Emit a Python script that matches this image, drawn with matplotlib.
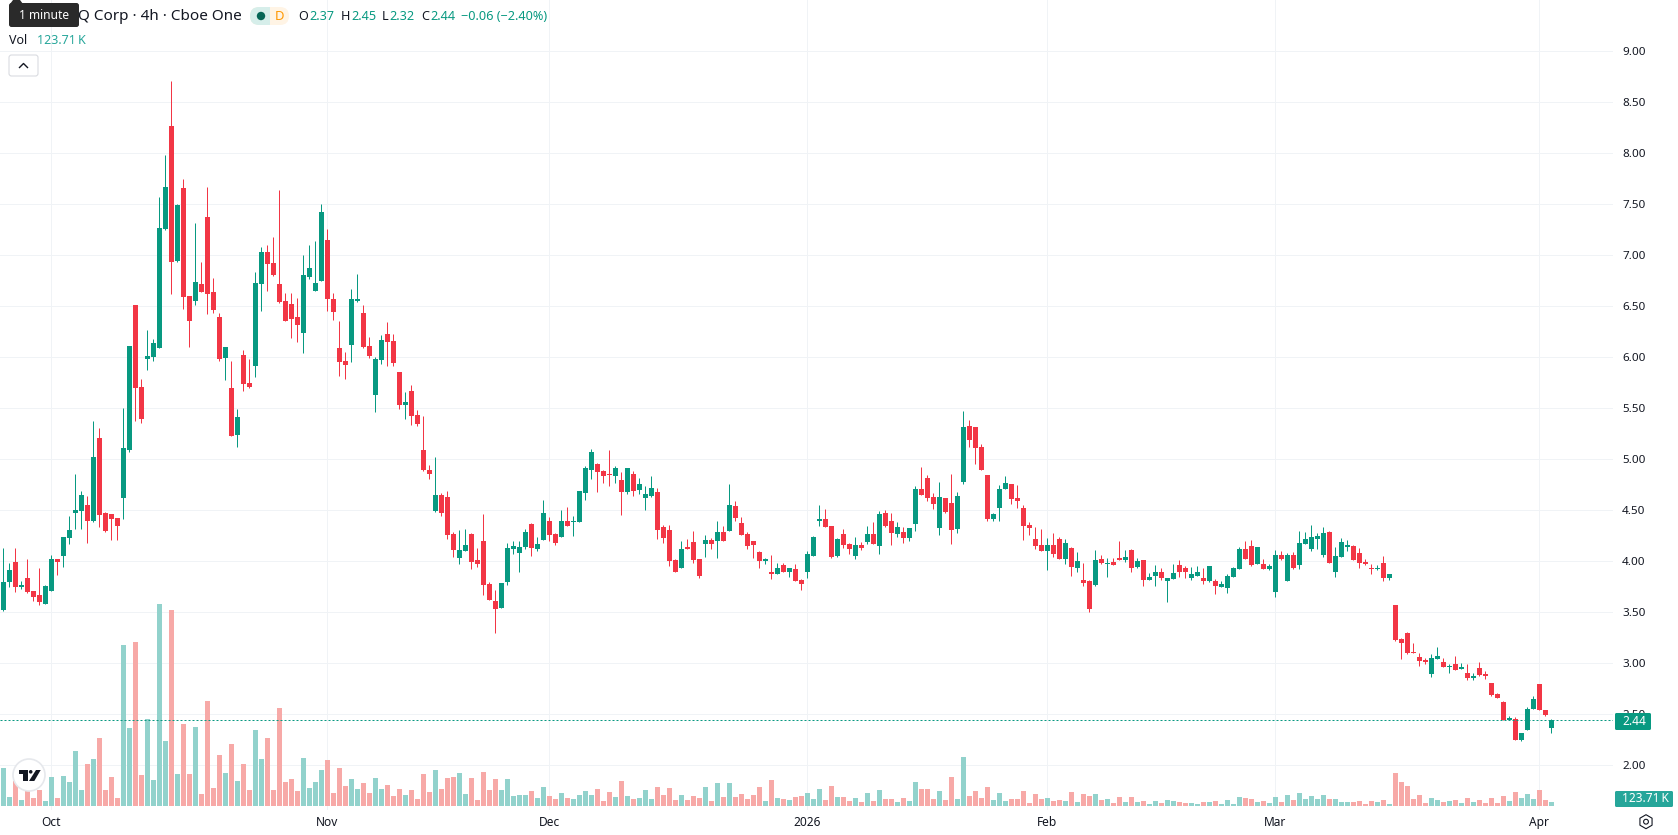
import matplotlib
matplotlib.use('Agg')
import matplotlib.pyplot as plt
import numpy as np
from matplotlib.patches import FancyBboxPatch, Rectangle, Circle, Polygon, RegularPolygon

plt.rcParams['font.family'] = ['Noto Sans', 'DejaVu Sans']

# 4h candles
opens = [3.52,3.80,3.99,3.75,3.84,3.71,3.67,3.58,3.71,4.02,
    4.05,4.23,4.47,4.49,4.55,4.40,5.21,4.47,4.46,4.42,
    4.62,5.09,6.51,5.71,5.98,6.00,6.09,7.26,8.27,6.94,
    7.66,6.60,6.55,6.72,7.38,6.64,6.40,5.99,5.70,5.24,
    6.02,5.75,5.91,6.72,7.03,6.92,6.72,6.55,6.52,6.40,
    6.24,6.79,6.65,6.75,7.15,6.57,6.09,5.96,6.12,6.55,
    6.43,6.11,5.63,5.97,6.23,6.16,5.86,5.53,5.67,5.43,
    5.09,4.90,4.49,4.65,4.63,4.27,4.03,4.10,4.27,4.01,
    4.20,3.78,3.61,3.54,3.80,4.12,4.08,4.14,4.37,4.12,
    4.21,4.40,4.27,4.24,4.40,4.39,4.39,4.67,4.90,4.95,
    4.89,4.86,4.84,4.80,4.68,4.86,4.70,4.62,4.64,4.68,
    4.34,4.31,4.01,3.93,4.14,4.19,4.02,4.17,4.21,4.20,
    4.29,4.30,4.54,4.38,4.27,4.20,4.09,4.00,3.90,3.88,
    3.96,3.90,3.92,3.82,3.90,4.05,4.40,4.41,4.35,4.05,
    4.27,4.17,4.05,4.16,4.19,4.27,4.15,4.47,4.40,4.27,
    4.29,4.23,4.37,4.71,4.82,4.63,4.33,4.62,4.57,4.32,
    4.78,5.33,5.32,5.12,4.85,4.41,4.52,4.71,4.76,4.62,
    4.52,4.36,4.22,4.16,4.10,4.16,4.22,4.02,4.13,3.93,
    3.82,3.81,3.77,4.02,3.97,3.99,4.03,4.01,4.11,3.94,
    4.01,3.82,3.86,3.90,3.81,3.83,3.96,3.93,3.84,3.86,
    3.84,3.81,3.81,3.75,3.74,3.85,3.92,4.12,4.15,3.97,
    3.97,3.92,3.70,4.06,3.81,4.06,3.96,4.17,4.12,4.22,
    4.06,4.29,3.90,4.04,4.14,4.15,4.08,3.99,3.93,3.92,
    3.98,3.84,3.57,3.24,3.30,3.11,3.06,3.03,2.90,3.04,
    3.01,2.96,2.99,2.94,2.91,2.86,2.95,2.90,2.81,2.70,
    2.62,2.44,2.45,2.25,2.35,2.55,2.80,2.54,2.37]
highs = [4.13,3.98,4.13,3.81,4.02,3.71,3.93,3.77,4.06,4.02,
    4.24,4.44,4.86,4.69,4.64,5.38,5.31,4.48,4.46,4.42,
    5.50,6.11,6.51,5.79,6.27,6.18,7.57,7.98,8.71,7.50,
    7.75,6.60,7.32,6.93,7.67,6.78,6.43,6.10,5.96,5.49,
    6.07,5.98,6.84,7.08,7.10,7.18,7.64,6.63,6.63,6.58,
    7.00,7.10,7.14,7.50,7.26,6.63,6.36,6.05,6.67,6.82,
    6.51,6.20,6.00,6.22,6.35,6.23,5.86,5.66,5.73,5.48,
    5.42,4.94,5.02,4.67,4.69,4.29,4.31,4.32,4.28,4.13,
    4.46,3.80,3.72,3.79,4.18,4.20,4.20,4.32,4.38,4.24,
    4.60,4.43,4.28,4.50,4.53,4.44,4.69,4.93,5.10,4.96,
    4.90,5.09,4.93,4.88,4.91,4.89,4.82,4.74,4.84,4.72,
    4.36,4.36,4.02,4.20,4.22,4.30,4.02,4.26,4.23,4.40,
    4.35,4.76,4.59,4.43,4.29,4.20,4.10,4.03,4.06,3.98,
    3.98,3.93,3.97,3.83,4.10,4.25,4.55,4.51,4.35,4.23,
    4.32,4.18,4.24,4.19,4.35,4.39,4.49,4.50,4.47,4.39,
    4.34,4.33,4.74,4.92,4.85,4.67,4.78,4.62,4.86,4.68,
    5.47,5.39,5.32,5.15,4.85,4.47,4.75,4.84,4.76,4.75,
    4.55,4.39,4.34,4.32,4.23,4.28,4.24,4.22,4.14,4.09,
    3.98,3.82,4.11,4.06,4.03,4.03,4.20,4.11,4.12,4.03,
    4.01,3.89,3.96,3.93,3.84,3.97,4.01,3.95,3.94,3.95,
    3.93,3.95,3.83,3.81,3.88,3.94,4.14,4.20,4.21,4.14,
    4.02,3.97,4.11,4.10,4.08,4.09,4.30,4.29,4.36,4.28,
    4.34,4.30,4.14,4.23,4.21,4.16,4.13,4.02,3.97,3.96,
    4.05,3.88,3.57,3.25,3.31,3.20,3.10,3.05,3.09,3.16,
    3.05,2.99,3.07,3.00,2.99,2.91,3.01,2.92,2.81,2.71,
    2.63,2.48,2.47,2.32,2.57,2.68,2.80,2.54,2.45]
lows = [3.51,3.75,3.70,3.73,3.69,3.61,3.57,3.58,3.71,3.87,
    3.94,4.17,4.32,4.32,4.18,4.39,4.34,4.29,4.21,4.21,
    4.41,5.07,5.38,5.36,5.88,5.96,6.09,7.25,6.62,6.93,
    6.47,6.10,6.51,6.64,6.42,6.43,5.96,5.78,5.23,5.12,
    5.67,5.70,5.81,6.45,6.65,6.80,6.53,6.36,6.19,6.15,
    6.04,6.77,6.65,6.75,6.45,6.37,5.82,5.79,5.95,6.54,
    6.09,5.99,5.46,5.93,5.91,5.91,5.49,5.40,5.34,5.33,
    4.89,4.81,4.48,4.44,4.22,4.04,3.97,4.10,3.92,3.94,
    3.67,3.62,3.30,3.54,3.77,4.07,3.90,4.12,4.05,4.10,
    4.21,4.20,4.16,4.24,4.35,4.25,4.39,4.60,4.81,4.68,
    4.77,4.74,4.77,4.45,4.66,4.64,4.66,4.50,4.63,4.22,
    4.18,3.95,3.90,3.93,4.12,3.98,3.84,4.04,4.12,4.03,
    4.20,4.30,4.40,4.26,4.12,4.03,3.93,3.97,3.83,3.88,
    3.90,3.85,3.81,3.72,3.84,4.05,4.35,4.34,4.03,4.04,
    4.13,4.07,4.02,4.11,4.17,4.17,4.07,4.34,4.16,4.24,
    4.18,4.20,4.30,4.65,4.59,4.51,4.26,4.47,4.17,4.28,
    4.76,5.12,4.95,4.90,4.40,4.40,4.40,4.71,4.56,4.52,
    4.21,4.26,4.12,4.10,3.91,4.04,4.02,3.97,3.86,3.90,
    3.76,3.50,3.76,3.97,3.85,3.96,4.01,3.99,3.90,3.93,
    3.76,3.82,3.76,3.82,3.60,3.83,3.85,3.84,3.82,3.86,
    3.78,3.80,3.68,3.75,3.69,3.85,3.92,4.02,3.95,3.97,
    3.92,3.91,3.65,4.01,3.81,3.92,3.92,4.17,4.10,4.12,
    4.04,3.98,3.85,4.04,4.10,4.01,3.93,3.96,3.88,3.91,
    3.81,3.82,3.22,3.04,3.09,3.10,2.97,2.99,2.87,3.04,
    2.96,2.91,2.93,2.94,2.84,2.84,2.88,2.85,2.68,2.66,
    2.44,2.44,2.25,2.24,2.35,2.55,2.54,2.48,2.32]
closes = [3.80,3.91,3.75,3.77,3.70,3.65,3.60,3.76,4.02,3.99,
    4.24,4.31,4.50,4.65,4.40,5.02,4.45,4.30,4.41,4.35,
    5.11,6.11,5.70,5.40,6.01,6.14,7.27,7.67,6.93,7.49,
    6.59,6.36,6.74,6.64,6.62,6.46,5.98,6.10,5.23,5.41,
    5.74,5.71,6.73,7.03,6.91,6.81,6.54,6.36,6.38,6.32,
    6.81,6.88,6.73,7.42,6.57,6.44,5.95,5.92,6.57,6.57,
    6.10,6.01,5.98,6.17,6.15,5.94,5.53,5.56,5.42,5.35,
    4.90,4.86,4.65,4.47,4.26,4.11,4.11,4.16,3.99,3.97,
    3.77,3.62,3.53,3.79,4.13,4.15,4.14,4.29,4.13,4.17,
    4.47,4.26,4.18,4.40,4.35,4.40,4.69,4.91,5.07,4.88,
    4.84,4.85,4.91,4.68,4.91,4.69,4.76,4.66,4.72,4.31,
    4.23,4.00,3.90,4.12,4.12,4.01,3.86,4.21,4.17,4.29,
    4.20,4.55,4.42,4.26,4.15,4.16,4.00,4.02,3.88,3.93,
    3.90,3.93,3.81,3.78,4.07,4.24,4.41,4.34,4.04,4.22,
    4.16,4.12,4.16,4.13,4.27,4.17,4.46,4.35,4.28,4.34,
    4.23,4.33,4.71,4.65,4.62,4.56,4.63,4.48,4.31,4.64,
    5.32,5.19,5.11,4.90,4.41,4.46,4.71,4.77,4.61,4.59,
    4.35,4.33,4.15,4.10,4.16,4.07,4.02,4.18,3.94,4.00,
    3.79,3.53,4.01,3.98,3.98,3.96,4.01,4.04,3.93,4.00,
    3.82,3.85,3.90,3.84,3.84,3.89,3.90,3.90,3.88,3.90,
    3.81,3.95,3.76,3.78,3.86,3.93,4.12,4.02,3.96,4.14,
    3.92,3.95,4.06,4.02,4.06,3.93,4.18,4.22,4.24,4.25,
    4.28,3.98,4.05,4.19,4.16,4.01,3.98,3.97,3.92,3.93,
    3.84,3.88,3.23,3.20,3.10,3.10,3.02,3.01,3.05,3.07,
    2.96,2.97,2.93,2.96,2.86,2.88,2.89,2.88,2.69,2.66,
    2.44,2.46,2.25,2.32,2.55,2.65,2.54,2.49,2.44]
# volume in thousands of shares
volume = [1175,278,773,186,464,247,495,155,897,247,
    928,742,1701,495,1299,1454,2103,495,897,247,
    4980,2412,5072,959,2691,804,6247,2010,6062,990,
    2536,990,2443,371,3247,557,1577,1021,1918,773,
    1299,495,2351,1454,2103,495,3031,742,835,464,
    1485,557,742,1113,1423,402,1175,619,835,526,
    711,402,866,526,650,309,526,340,495,216,
    990,433,1113,526,866,897,1021,371,866,186,
    1052,495,835,495,835,309,340,340,464,247,
    588,309,216,402,247,216,340,464,340,526,
    155,433,278,773,309,216,247,495,216,588,
    340,557,186,340,186,309,247,588,155,711,
    278,711,278,371,216,340,588,155,804,247,
    216,186,278,309,402,216,526,186,619,278,
    278,155,247,124,402,155,495,216,216,124,
    247,155,742,526,526,216,464,186,897,216,
    1516,309,464,247,588,186,402,155,216,216,
    464,93,371,216,247,155,186,155,433,124,
    371,309,371,186,216,93,278,124,278,124,
    155,62,155,93,186,155,124,93,93,62,
    124,124,155,62,186,62,278,247,216,124,
    155,93,278,124,340,186,402,216,309,216,
    340,216,216,124,124,124,155,62,155,124,
    186,62,1021,742,619,216,340,93,247,186,
    124,155,186,93,247,124,186,93,247,93,
    309,155,433,247,371,216,495,186,123.71]

month_idx = [8, 54, 91, 134, 174, 212, 256]
month_labels = ['Oct', 'Nov', 'Dec', '2026', 'Feb', 'Mar', 'Apr']
price_ticks = [2.0, 2.5, 3.0, 3.5, 4.0, 4.5, 5.0, 5.5, 6.0, 6.5, 7.0, 7.5, 8.0, 8.5, 9.0]
last_price = 2.44
last_volume = 123.71

UP = '#089981'
DOWN = '#F23645'
UP_VOL = '#92D2CC'
DOWN_VOL = '#F7A9A7'
GRID = '#F0F3F6'
TEXT = '#131722'
PX = 0.72  # one pixel in points at dpi=100

W, H = 1678, 835
fig = plt.figure(figsize=(W / 100, H / 100), dpi=100, facecolor='white')
ax = fig.add_axes([0, 1 - 810 / H, 1613 / W, 810 / H])

x = np.arange(len(closes))
o, h, l, c = map(np.array, (opens, highs, lows, closes))
rising = c >= o
colors = np.where(rising, UP, DOWN)

# volume sits in the price pane, scaled up from a base line near the bottom
vol_base = 1.60
vol_scale = (4 / 123.71) / 102
vol = np.array(volume) * vol_scale
ax.bar(x, vol, bottom=vol_base, width=5 / 6, linewidth=0,
       color=np.where(rising, UP_VOL, DOWN_VOL), zorder=2)

# candles
ax.vlines(x, l, h, colors=colors, linewidth=PX, zorder=3)
ax.bar(x, np.maximum(np.abs(c - o), 0.01), bottom=np.minimum(o, c), width=5 / 6,
       linewidth=0, color=colors, zorder=4)

ax.axhline(last_price, color=UP, linewidth=PX, linestyle=(0, (2, 2)), snap=True, zorder=5)

ax.set_xlim(-0.567, 268.27)
ax.set_ylim(1.562, 9.503)
ax.set_axisbelow(True)
ax.grid(True, color=GRID, linewidth=PX)
for s in ax.spines.values():
    s.set_visible(False)

ax.set_xticks(month_idx)
ax.set_xticklabels(month_labels, fontsize=8.6, color=TEXT)
ax.get_xticklabels()[3].set_fontweight('bold')
ax.yaxis.tick_right()
ax.set_yticks(price_ticks)
ax.set_yticklabels([f'{v:.2f}' for v in price_ticks], fontsize=8.4, color=TEXT)
ax.tick_params(axis='both', length=0)
ax.tick_params(axis='x', pad=4.5)
ax.tick_params(axis='y', pad=6.5)

# header, tags and buttons on a pixel-sized overlay
ui = fig.add_axes([0, 0, 1, 1], zorder=10)
ui.set_xlim(0, W)
ui.set_ylim(H, 0)
ui.axis('off')
ui.patch.set_alpha(0)

ui.text(78, 16, 'Q Corp · 4h · Cboe One', fontsize=11.0, color=TEXT, va='center', zorder=1)
pill_o = FancyBboxPatch((250, 7), 39, 18, boxstyle='round,pad=0,rounding_size=9',
                        facecolor='#FFF4E5', edgecolor='none', zorder=2)
ui.add_patch(pill_o)
pill_g = FancyBboxPatch((250, 7), 39, 18, boxstyle='round,pad=0,rounding_size=9',
                        facecolor='#D6EEEA', edgecolor='none', zorder=2)
ui.add_patch(pill_g)
pill_g.set_clip_path(Rectangle((250, 7), 20, 18, transform=ui.transData))
ui.add_patch(Circle((261, 16), 4.2, facecolor='#056656', edgecolor='none', zorder=3))
ui.text(279, 16, 'D', fontsize=9.4, color='#FF9800', fontweight='bold', ha='center', va='center', zorder=3)

for xp, s, col in [(298, 'O', TEXT), (309, '2.37', UP), (341, 'H', TEXT), (351, '2.45', UP),
                   (382, 'L', TEXT), (389, '2.32', UP), (421, 'C', TEXT), (430, '2.44', UP),
                   (461, '\u22120.06 (\u22122.40%)', UP)]:
    ui.text(xp, 16, s, fontsize=9.1, color=col, va='center')

ui.text(9, 40.5, 'Vol', fontsize=9, color=TEXT, va='center')
ui.text(37, 40.5, '123.71\u2009K', fontsize=9, color='#26A69A', va='center')

# tooltip over the start of the symbol name
ui.add_patch(FancyBboxPatch((9, 3), 70, 24, boxstyle='round,pad=0,rounding_size=2.5',
                            facecolor='#2A2A2A', edgecolor='none', zorder=5))
ui.add_patch(Polygon([[10, 4], [13, 0], [20, 0], [23, 4]], facecolor='#2A2A2A', edgecolor='none', zorder=5))
ui.text(44, 15.5, '1 minute', fontsize=8.6, color='white', ha='center', va='center', zorder=6)

# collapse button
ui.add_patch(FancyBboxPatch((9, 55), 29, 21, boxstyle='round,pad=0,rounding_size=2.5',
                            facecolor='white', edgecolor='#D6D8DE', linewidth=PX))
ui.plot([19.5, 23.5, 27.5], [67.5, 63.5, 67.5], color=TEXT, linewidth=1.0)

# logo badge
ui.add_patch(Circle((29, 775), 16, facecolor='white', edgecolor='#E6E8EC', linewidth=1.2, zorder=3))
ui.add_patch(Polygon([[19, 770], [28, 770], [28, 781], [23.3, 781], [23.3, 774], [19, 774]],
                     facecolor='#131722', edgecolor='none', zorder=4))
ui.add_patch(Circle((30.7, 771.8), 1.8, facecolor='#131722', edgecolor='none', zorder=4))
ui.add_patch(Polygon([[36, 770], [40.7, 770], [34.3, 781], [29, 781]],
                     facecolor='#131722', edgecolor='none', zorder=4))

# last value tags on the price scale
ui.add_patch(FancyBboxPatch((1615, 713), 36, 17, boxstyle='round,pad=0,rounding_size=1.5',
                            facecolor=UP, edgecolor='none', zorder=3))
ui.text(1622, 721.5, f'{last_price:.2f}', fontsize=8.6, color='white', va='center', zorder=4)
ui.add_patch(FancyBboxPatch((1615, 791), 58, 16, boxstyle='round,pad=0,rounding_size=1.5',
                            facecolor='#26A69A', edgecolor='none', zorder=3))
ui.text(1622, 799, f'{last_volume:.2f}\u2009K', fontsize=8.6, color='white', va='center', zorder=4)

# settings icon
ui.add_patch(RegularPolygon((1646, 821.7), 6, radius=7, orientation=np.pi / 2 + np.pi / 6,
                            facecolor='white', edgecolor=TEXT, linewidth=0.8))
ui.add_patch(Circle((1646, 821.7), 2.4, facecolor='white', edgecolor=TEXT, linewidth=0.8))

fig.savefig('out.png', dpi=100)
